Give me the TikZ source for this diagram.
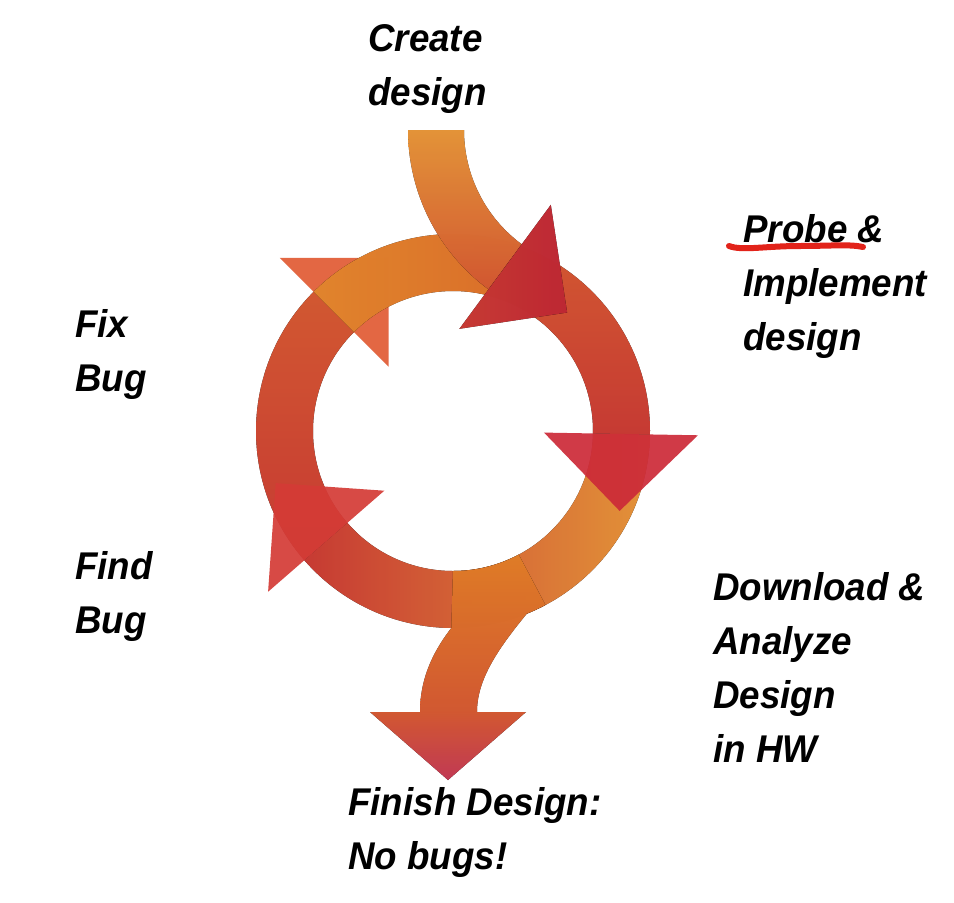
\documentclass[tikz,border=0pt]{standalone}
\usepackage{fontspec}
\setmainfont{Liberation Sans}[FakeStretch=0.95]
\usepackage{tikz}
\usetikzlibrary{calc}
\definecolor{peach}{RGB}{245,158,60}
\definecolor{tangerine}{RGB}{240,128,38}
\definecolor{flame}{RGB}{226,94,52}
\definecolor{ember}{RGB}{214,62,54}
\definecolor{crimson}{RGB}{204,42,56}
\definecolor{rose}{RGB}{208,60,90}
\definecolor{marker}{RGB}{226,35,26}

% ring band between two angles, and a head at one angle
\newcommand\ringpart[3]{%
  \fill[band, #3] ($(hub)+(#1:197)$) arc[start angle=#1, end angle=#2, radius=197]
    -- ($(hub)+(#2:140)$) arc[start angle=#2, end angle=#1, radius=140] -- cycle;}
\newcommand\ringhead[2]{%
  \fill[band, #2] ($(hub)+(#1:91)$) -- ($(hub)+(#1:168)+({#1+90}:77)$) -- ($(hub)+(#1:245)$) -- cycle;}

\begin{document}
\begin{tikzpicture}[x=0.02cm, y=-0.02cm,
  band/.style={fill opacity=0.92},
  lbl/.style={font=\fontsize{22pt}{30.7pt}\selectfont\bfseries\itshape, align=left, anchor=north west, inner sep=0pt}]
  \fill[white] (0,0) rectangle (954,903);
  \useasboundingbox (0,0) rectangle (954,903);
  \coordinate (hub) at (453,431);
  \coordinate (feed) at (606,130);
  \coordinate (drain) at (448,712);

  % the loop
  \ringpart{139}{225}{bottom color=ember, top color=flame}
  \ringhead{225}{fill=flame!90!ember}
  \ringpart{1}{139}{left color=ember, middle color=tangerine!70!flame, right color=peach}
  \ringhead{139}{fill=ember!85!crimson}
  \ringpart{225}{290}{left color=peach!50!tangerine, right color=tangerine!70!flame}
  \ringpart{288}{361}{top color=flame, bottom color=ember}
  \ringhead{1}{fill=crimson}

  % way in
  \fill[band, top color=peach, bottom color=flame] (feed) ++(180:198) arc[start angle=180, end angle=126.4, radius=198]
    -- ($(feed)+(126.4:142)$) arc[start angle=126.4, end angle=180, radius=142] -- cycle;
  \fill[band, left color=ember, right color=crimson] ($(feed)+(126.4:93)$) -- ($(feed)+(126.4:170)+(36.4:77)$) -- ($(feed)+(126.4:247)$) -- cycle;

  % way out
  \fill[band, top color=tangerine!80!peach, bottom color=flame] ($(hub)+(90:140)$) arc[start angle=90, end angle=62, radius=140]
    -- ($(hub)+(62:197)$) arc[start angle=62, end angle=68, radius=197]
    .. controls (497,650) and (477,680) .. ($(drain)+(29,0)$) -- ($(drain)+(-28,0)$)
    .. controls (420,675) and (436,648) .. ($(hub)+(90.5:197)$) -- cycle;
  \fill[band, top color=flame, bottom color=rose] ($(drain)+(-78,0)$) -- ($(drain)+(0,68)$) -- ($(drain)+(78,0)$) -- cycle;

  \node[lbl] (create) at (368,24) {Create\\design};
  \node[lbl] (probe) at (743,214) {Probe \&\\Implement\\design};
  \node[lbl] (fixbug) at (75,309) {Fix\\Bug};
  \node[lbl] (findbug) at (75,551) {Find\\Bug};
  \node[lbl] (download) at (713,572) {Download \&\\Analyze\\Design\\in HW};
  \node[lbl] (finish) at (348,787) {Finish Design:\\No bugs!};

  \draw[marker, line width=1.2mm, line cap=round] (729,246) .. controls (742,251) and (765,246) .. (800,246)
    .. controls (830,246) and (850,244) .. (863,247);
\end{tikzpicture}
\end{document}
